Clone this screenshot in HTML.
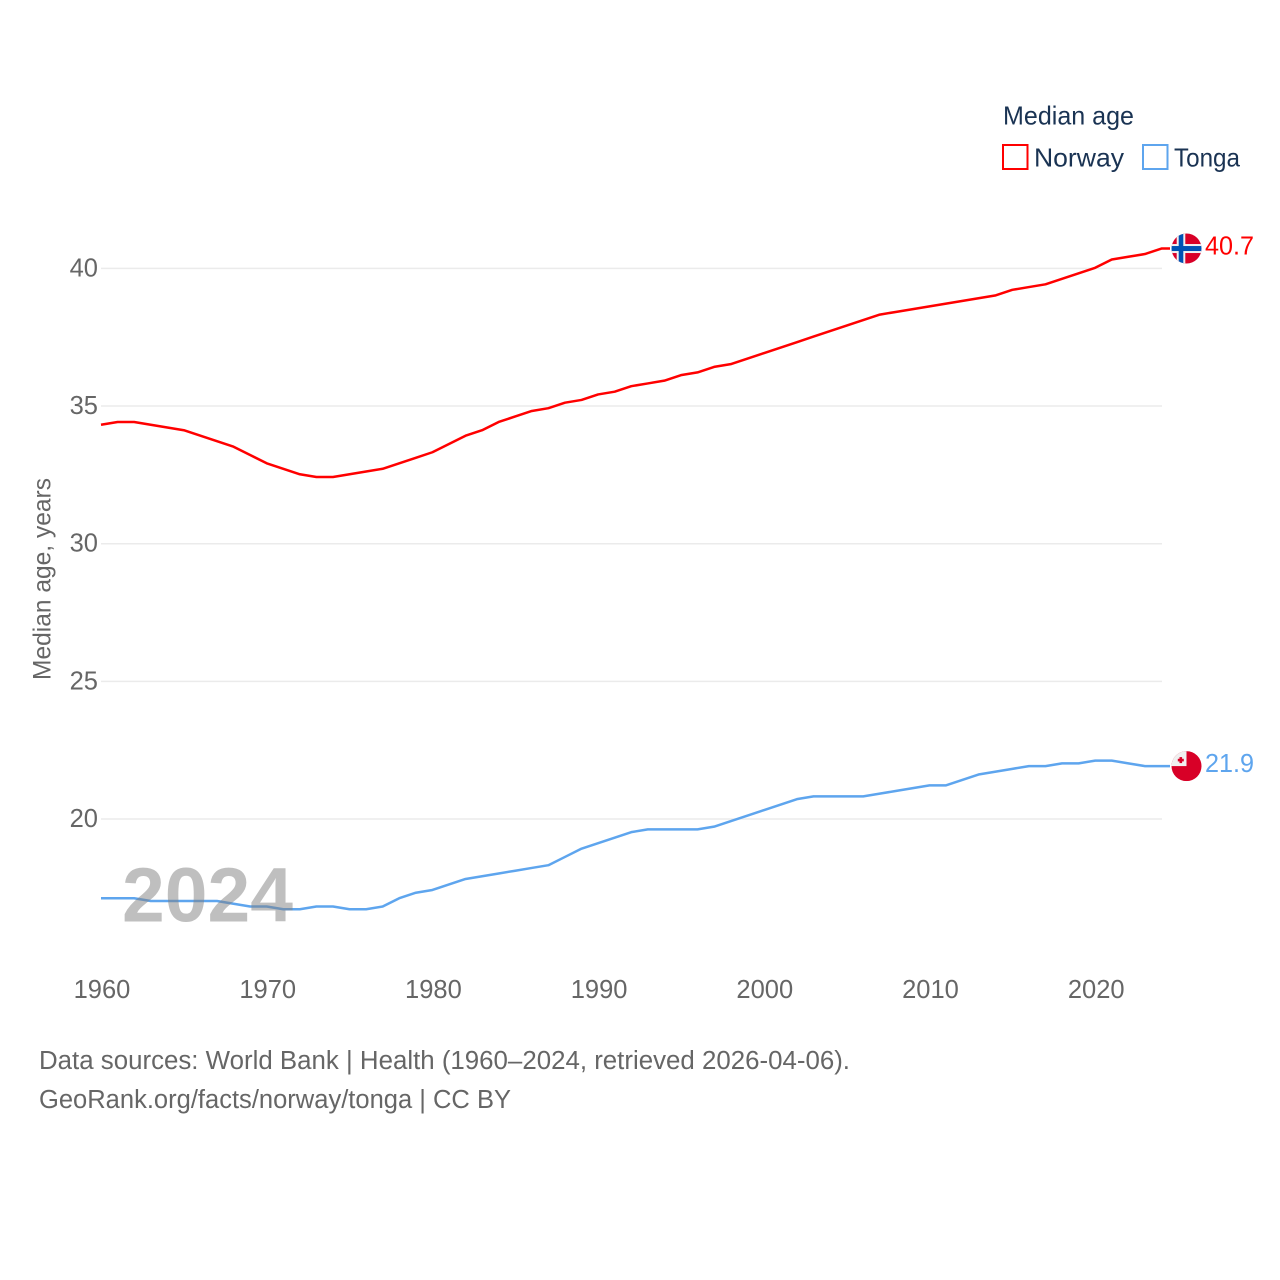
<!DOCTYPE html>
<html>
<head>
<meta charset="utf-8">
<title>Median age: Norway and Tonga</title>
<style>
html,body{margin:0;padding:0;background:#fff;}
svg{display:block;}
text{font-family:"Liberation Sans",sans-serif;}
</style>
</head>
<body>
<svg id="chart" xmlns="http://www.w3.org/2000/svg" width="1280" height="1280" viewBox="0 0 1280 1280">
  <rect x="0" y="0" width="1280" height="1280" fill="#fff"/>
  <g id="grid"></g>
  <g id="yticks"></g>
  <g id="xticks"></g>
  <text transform="translate(50.5,680) rotate(-90)" font-size="25" fill="#666" textLength="202" lengthAdjust="spacingAndGlyphs">Median age, years</text>
  <g id="series"></g>
  <text x="122" y="921.5" font-size="77" font-weight="normal" stroke="#808080" stroke-opacity="0" fill="#808080" fill-opacity="0.5" textLength="171" lengthAdjust="spacingAndGlyphs" style="font-weight:bold">2024</text>

  <g>
    <text x="1003" y="124.5" font-size="26" fill="#1a3353" textLength="131" lengthAdjust="spacingAndGlyphs">Median age</text>
    <g>
      <rect x="1003" y="145" width="24.5" height="24" fill="none" stroke="#ff0000" stroke-width="2"/>
      <text x="1034" y="166.5" font-size="26" fill="#1a3353" textLength="90" lengthAdjust="spacingAndGlyphs">Norway</text>
    </g>
    <g>
      <rect x="1143" y="145" width="24.5" height="24" fill="none" stroke="#5ea5ee" stroke-width="2"/>
      <text x="1174" y="166.5" font-size="26" fill="#1a3353" textLength="66" lengthAdjust="spacingAndGlyphs">Tonga</text>
    </g>
  </g>

  <defs>
    <clipPath id="clip-no"><circle cx="0" cy="0" r="15"/></clipPath>
    <clipPath id="clip-to"><circle cx="0" cy="0" r="15"/></clipPath>
  </defs>
  <g id="flag-norway" clip-path="url(#clip-no)">
    <rect x="-15" y="-15" width="30" height="30" fill="#d80027"/>
    <rect x="-9.8" y="-15" width="8.6" height="30" fill="#f0f0f0"/>
    <rect x="-15" y="-4.5" width="30" height="9" fill="#f0f0f0"/>
    <rect x="-7.8" y="-15" width="4.6" height="30" fill="#0052b4"/>
    <rect x="-15" y="-2.5" width="30" height="5" fill="#0052b4"/>
  </g>
  <g id="flag-tonga" clip-path="url(#clip-to)">
    <rect x="-15" y="-15" width="30" height="30" fill="#d80027"/>
    <rect x="-15" y="-15" width="15" height="15" fill="#f0f0f0"/>
    <rect x="-7" y="-9" width="2.6" height="6" fill="#d80027"/>
    <rect x="-8.7" y="-7.3" width="6" height="2.6" fill="#d80027"/>
  </g>
  <text id="value-norway" x="1205" font-size="25.5" fill="#ff0000" textLength="49" lengthAdjust="spacingAndGlyphs"></text>
  <text id="value-tonga" x="1205" font-size="25.5" fill="#5ea5ee" textLength="49" lengthAdjust="spacingAndGlyphs"></text>

  <g>
    <text x="39" y="1069" font-size="25.5" fill="#666" textLength="811" lengthAdjust="spacingAndGlyphs">Data sources: World Bank | Health (1960–2024, retrieved 2026-04-06).</text>
    <text x="39" y="1108" font-size="25.5" fill="#666" textLength="472" lengthAdjust="spacingAndGlyphs">GeoRank.org/facts/norway/tonga | CC BY</text>
  </g>
</svg>
<script>
var startYear = 1960;
var norwayValues = [34.3,34.4,34.4,34.3,34.2,34.1,33.9,33.7,33.5,33.2,32.9,32.7,32.5,32.4,32.4,32.5,32.6,32.7,32.9,33.1,33.3,33.6,33.9,34.1,34.4,34.6,34.8,34.9,35.1,35.2,35.4,35.5,35.7,35.8,35.9,36.1,36.2,36.4,36.5,36.7,36.9,37.1,37.3,37.5,37.7,37.9,38.1,38.3,38.4,38.5,38.6,38.7,38.8,38.9,39.0,39.2,39.3,39.4,39.6,39.8,40.0,40.3,40.4,40.5,40.7];
var tongaValues = [17.1,17.1,17.1,17.0,17.0,17.0,17.0,17.0,16.9,16.8,16.8,16.7,16.7,16.8,16.8,16.7,16.7,16.8,17.1,17.3,17.4,17.6,17.8,17.9,18.0,18.1,18.2,18.3,18.6,18.9,19.1,19.3,19.5,19.6,19.6,19.6,19.6,19.7,19.9,20.1,20.3,20.5,20.7,20.8,20.8,20.8,20.8,20.9,21.0,21.1,21.2,21.2,21.4,21.6,21.7,21.8,21.9,21.9,22.0,22.0,22.1,22.1,22.0,21.9,21.9];
var yTickValues = [20,25,30,35,40];
var xTickValues = [1960,1970,1980,1990,2000,2010,2020];

var NS = 'http://www.w3.org/2000/svg';
function xScale(year){ return 101 + (year - 1960) * 16.57; }
function yScale(v){ return 819 - (v - 20) * 27.53; }
function yLine(v){ return yScale(v) - 0.6; }

var gridG = document.getElementById('grid');
var yG = document.getElementById('yticks');
var xG = document.getElementById('xticks');
var seriesG = document.getElementById('series');

yTickValues.forEach(function(v){
  var l = document.createElementNS(NS,'line');
  
  
  l.setAttribute('x1', 101);
  l.setAttribute('x2', 1162);
  l.setAttribute('y1', yScale(v));
  l.setAttribute('y2', yScale(v));
  l.setAttribute('stroke', '#ebebeb');
  l.setAttribute('stroke-width', '1.5');
  gridG.appendChild(l);
  var t = document.createElementNS(NS,'text');
  
  
  t.setAttribute('x', 98);
  t.setAttribute('y', yScale(v) + 8);
  t.setAttribute('text-anchor', 'end');
  t.setAttribute('font-size', '25.5');
  t.setAttribute('fill', '#666');
  t.textContent = v;
  yG.appendChild(t);
});

xTickValues.forEach(function(y){
  var t = document.createElementNS(NS,'text');
  
  
  t.setAttribute('x', xScale(y) + 1);
  t.setAttribute('y', 998);
  t.setAttribute('text-anchor', 'middle');
  t.setAttribute('font-size', '25.5');
  t.setAttribute('fill', '#666');
  t.textContent = y;
  xG.appendChild(t);
});

function linePoints(values){
  var pts = values.map(function(v,i){ return xScale(startYear + i).toFixed(2) + ',' + yLine(v).toFixed(2); });
  return pts.join(' ');
}

var norwayLine = document.createElementNS(NS,'polyline');


norwayLine.setAttribute('points', linePoints(norwayValues) + ' 1170,' + yLine(norwayValues[norwayValues.length-1]).toFixed(2));
norwayLine.setAttribute('fill', 'none');
norwayLine.setAttribute('stroke', '#ff0000');
norwayLine.setAttribute('stroke-width', '2.5');
norwayLine.setAttribute('stroke-linejoin', 'round');
seriesG.appendChild(norwayLine);

var tongaLine = document.createElementNS(NS,'polyline');


tongaLine.setAttribute('points', linePoints(tongaValues) + ' 1170,' + yLine(tongaValues[tongaValues.length-1]).toFixed(2));
tongaLine.setAttribute('fill', 'none');
tongaLine.setAttribute('stroke', '#5ea5ee');
tongaLine.setAttribute('stroke-width', '2.5');
tongaLine.setAttribute('stroke-linejoin', 'round');
seriesG.appendChild(tongaLine);

var lastN = norwayValues[norwayValues.length-1];
var lastT = tongaValues[tongaValues.length-1];
document.getElementById('flag-norway').setAttribute('transform', 'translate(1186.5,' + yLine(lastN) + ')');
document.getElementById('flag-tonga').setAttribute('transform', 'translate(1186.5,' + yLine(lastT) + ')');
var vn = document.getElementById('value-norway');
vn.setAttribute('y', yLine(lastN) + 6);
vn.textContent = lastN.toFixed(1);
var vt = document.getElementById('value-tonga');
vt.setAttribute('y', yLine(lastT) + 6);
vt.textContent = lastT.toFixed(1);
</script>
</body>
</html>
